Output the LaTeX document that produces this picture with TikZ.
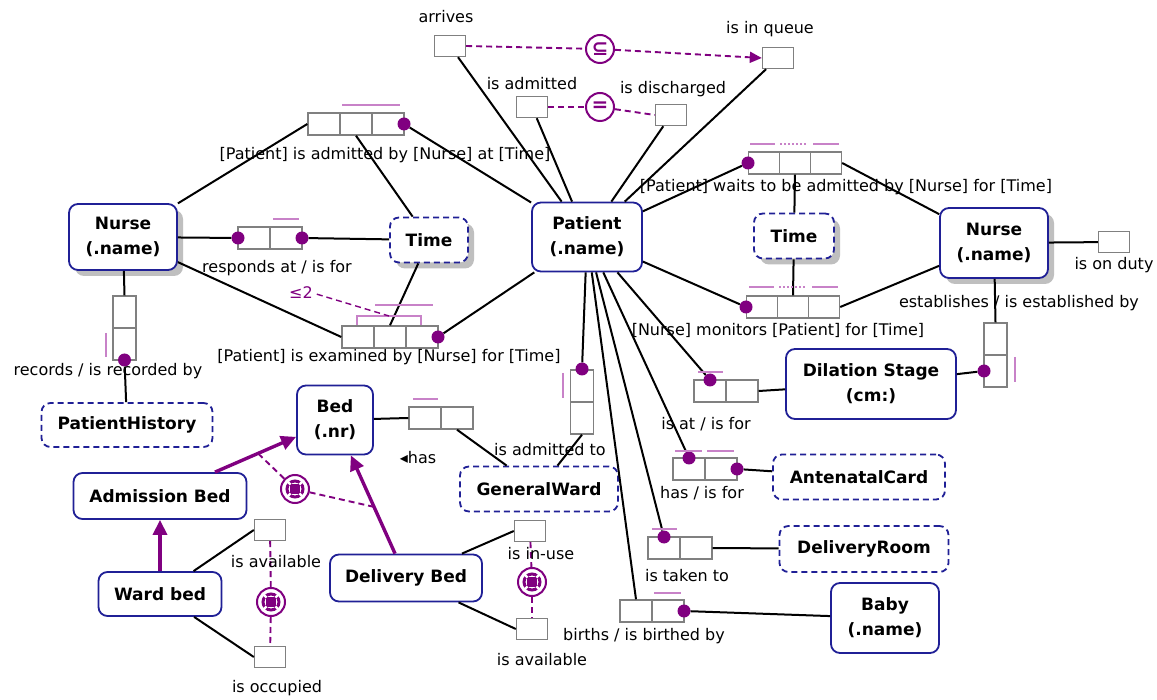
\documentclass[tikz,border=0pt]{standalone}
\usepackage{fontspec}
\setmainfont{DejaVu Sans}
\usetikzlibrary{arrows.meta,calc,shadows}
\definecolor{ormblue}{RGB}{32,32,150}
\definecolor{ormpurple}{RGB}{128,0,128}
\definecolor{ormbar}{RGB}{200,130,200}
\tikzset{
  entity/.style={draw=ormblue, line width=1.8pt, rounded corners=9pt, fill=white, align=center, inner sep=2pt, font=\bfseries\fontsize{17}{25}\selectfont},
  valuetype/.style={entity, dash pattern=on 6pt off 4pt},
  dup/.style={drop shadow={shadow xshift=6pt, shadow yshift=-6pt, fill=black!25, opacity=1}},
  role/.style={draw=black!50, fill=white, line width=1.4pt, minimum width=32pt, minimum height=22pt, inner sep=0pt},
  vrole/.style={role, minimum width=23pt, minimum height=32pt},
  unary/.style={role, minimum width=31pt, minimum height=21pt},
  dot/.style={circle, fill=ormpurple, inner sep=0pt, minimum size=13pt},
  link/.style={line width=2pt},
  ubar/.style={draw=ormbar, line width=2.6pt},
  lbl/.style={inner sep=0pt, font=\fontsize{16}{19}\selectfont},
  cdash/.style={draw=ormpurple, line width=1.9pt, dash pattern=on 6pt off 4pt},
  cons/.style={circle, draw=ormpurple, line width=2pt, fill=white, minimum size=28pt, inner sep=0pt, text=ormpurple, font=\bfseries\fontsize{20}{20}\selectfont},
  xorc/.style={cons, path picture={
      \coordinate (pc) at (path picture bounding box.center);
      \draw[ormpurple, line width=3pt] (pc) circle (8pt);
      \fill[ormpurple] ($(pc)+(-5pt,-5pt)$) rectangle ($(pc)+(5pt,5pt)$);
      \foreach \a in {45,135,225,315}
        \draw[white, line width=2.4pt] ($(pc)+(\a:6.2pt)$) -- ($(pc)+(\a:11pt)$);
    }},
  subarrow/.style={draw=ormpurple, line width=3.4pt, -{Triangle[length=15pt,width=14pt]}}
}
\begin{document}
\begin{tikzpicture}[x=1pt,y=-1pt]
\fill[white] (0,0) rectangle (1157,700);

\node[entity,dup,minimum width=108pt,minimum height=66pt] (nurseL) at (123,237) {Nurse\\(.name)};
\node[valuetype,dup,minimum width=78pt,minimum height=45pt] (timeL) at (429,240) {Time};
\node[entity,minimum width=110pt,minimum height=69pt] (patient) at (587,237) {Patient\\(.name)};
\node[valuetype,dup,minimum width=80pt,minimum height=45pt] (timeR) at (794,236) {Time};
\node[entity,dup,minimum width=108pt,minimum height=70pt] (nurseR) at (994,243) {Nurse\\(.name)};
\node[valuetype,minimum width=171pt,minimum height=44pt] (history) at (127,425) {PatientHistory};
\node[entity,minimum width=76pt,minimum height=69pt] (bed) at (335,420) {Bed\\(.nr)};
\node[valuetype,minimum width=158pt,minimum height=45pt] (ward) at (539,489) {GeneralWard};
\node[entity,minimum width=170pt,minimum height=70pt] (dilation) at (871,384) {Dilation Stage\\(cm:)};
\node[valuetype,minimum width=172pt,minimum height=45pt] (card) at (859,477) {AntenatalCard};
\node[valuetype,minimum width=169pt,minimum height=46pt] (room) at (864,549) {DeliveryRoom};
\node[entity,minimum width=108pt,minimum height=70pt] (baby) at (885,618) {Baby\\(.name)};
\node[entity,minimum width=173pt,minimum height=46pt] (admbed) at (160,496) {Admission Bed};
\node[entity,minimum width=123pt,minimum height=44pt] (wardbed) at (160,594) {Ward bed};
\node[entity,minimum width=152pt,minimum height=47pt] (delbed) at (406,578) {Delivery Bed};

\node[unary] (arrives) at (450,46) {};
\node[unary] (inqueue) at (778,58) {};
\node[unary] (admitted) at (532,107) {};
\node[unary] (discharged) at (671,115) {};
\node[unary] (duty) at (1114,242) {};
\node[unary] (avail1) at (270,530) {};
\node[unary] (occ) at (270,657) {};
\node[unary] (inuse) at (530,531) {};
\node[unary] (avail2) at (532,629) {};

\node[role] (adm1) at (324,124) {};
\node[role] (adm2) at (356,124) {};
\node[role] (adm3) at (388,124) {};
\node[role] (res1) at (254,238) {};
\node[role] (res2) at (286,238) {};
\node[role] (exa1) at (358,337) {};
\node[role] (exa2) at (390,337) {};
\node[role] (exa3) at (422,337) {};
\node[vrole] (rec1) at (124.5,312) {};
\node[vrole] (rec2) at (124.5,344) {};
\node[role] (has1) at (425,418) {};
\node[role] (has2) at (457,418) {};
\node[vrole] (admto1) at (582,386) {};
\node[vrole] (admto2) at (582,418) {};
\node[role] (isat1) at (710,391) {};
\node[role] (isat2) at (742,391) {};
\node[role] (cardf1) at (689,469) {};
\node[role] (cardf2) at (721,469) {};
\node[role] (taken1) at (664,548) {};
\node[role] (taken2) at (696,548) {};
\node[role] (birth1) at (636,611) {};
\node[role] (birth2) at (668,611) {};
\node[role,minimum width=31pt] (wait1) at (764,163) {};
\node[role,minimum width=31pt] (wait2) at (795,163) {};
\node[role,minimum width=31pt] (wait3) at (826,163) {};
\node[role,minimum width=31pt] (mon1) at (762,307) {};
\node[role,minimum width=31pt] (mon2) at (793,307) {};
\node[role,minimum width=31pt] (mon3) at (824,307) {};
\node[vrole] (est1) at (995.5,339) {};
\node[vrole] (est2) at (995.5,371) {};

\node[dot] (admd) at (404,124) {};
\node[dot] (resdl) at (238,238) {};
\node[dot] (resdr) at (302,238) {};
\node[dot] (exad) at (438,337) {};
\node[dot] (recd) at (124.5,360) {};
\node[dot] (admtod) at (582,369) {};
\node[dot] (isatd) at (710,380) {};
\node[dot] (cardd1) at (689,458) {};
\node[dot] (cardd2) at (737,469) {};
\node[dot] (takend) at (664,537) {};
\node[dot] (birthd) at (684,611) {};
\node[dot] (waitd) at (748,163) {};
\node[dot] (mond) at (746,307) {};
\node[dot] (estd) at (984,371) {};

\draw[link] (arrives) -- (patient);
\draw[link] (admitted) -- (patient);
\draw[link] (discharged) -- (patient);
\draw[link] (inqueue) -- (patient);
\draw[link] (nurseL) -- (adm1.west);
\draw[link] (adm2.south) -- (timeL);
\draw[link] (admd) -- (patient);
\draw[link] (nurseL) -- (resdl);
\draw[link] (resdr) -- (timeL);
\draw[link] (nurseL) -- (exa1.west);
\draw[link] (exa2.north) -- (timeL);
\draw[link] (exad) -- (patient);
\draw[link] (nurseL) -- (rec1.north);
\draw[link] (recd) -- (history);
\draw[link] (bed) -- (has1.west);
\draw[link] (has2.south) -- (ward);
\draw[link] (patient) -- (admtod);
\draw[link] (admto2.south) -- (ward);
\draw[link] (patient) -- (isatd);
\draw[link] (isat2.east) -- (dilation);
\draw[link] (patient) -- (cardd1);
\draw[link] (cardd2) -- (card);
\draw[link] (patient) -- (takend);
\draw[link] (taken2.east) -- (room);
\draw[link] (patient) -- (birth1.north);
\draw[link] (birthd) -- (baby);
\draw[link] (patient) -- (waitd);
\draw[link] (wait2.south) -- (timeR);
\draw[link] (wait3.east) -- (nurseR);
\draw[link] (patient) -- (mond);
\draw[link] (timeR) -- (mon2.north);
\draw[link] (mon3.east) -- (nurseR);
\draw[link] (nurseR) -- (duty);
\draw[link] (nurseR) -- (est1.north);
\draw[link] (estd) -- (dilation);
\draw[link] (wardbed) -- (avail1.west);
\draw[link] (wardbed) -- (occ.west);
\draw[link] (delbed) -- (inuse.west);
\draw[link] (delbed) -- (avail2.west);

\draw[ubar] (342,105) -- (400,105);
\draw[ubar] (273,219) -- (299,219);
\draw[ubar] (375,305) -- (433,305);
\draw[ubar, line width=2pt] (357,325) -- (357,316) -- (421,316) -- (421,325);
\draw[ubar] (106,333) -- (106,357);
\draw[ubar] (413,399) -- (438,399);
\draw[ubar] (563,373) -- (563,398);
\draw[ubar] (698,372) -- (723,372);
\draw[ubar] (675,451) -- (702,451);
\draw[ubar] (707,451) -- (734,451);
\draw[ubar] (652,529) -- (677,529);
\draw[ubar] (654,593) -- (681,593);
\draw[ubar] (750,144) -- (775,144);
\draw[ubar, dash pattern=on 2pt off 2pt] (780,144) -- (807,144);
\draw[ubar] (813,144) -- (839,144);
\draw[ubar] (749,287) -- (774,287);
\draw[ubar, dash pattern=on 2pt off 2pt] (779,287) -- (806,287);
\draw[ubar] (812,287) -- (838,287);
\draw[ubar] (1015,357) -- (1015,382);

\node[cons] (subset) at (600,49) {⊆};
\node[cons] (equal) at (600,107) {=};
\draw[cdash] (arrives.east) -- (subset);
\draw[cdash, -{Triangle[length=12pt,width=11pt]}] (subset) -- (inqueue.west);
\draw[cdash] (admitted.east) -- (equal);
\draw[cdash] (equal) -- (discharged.west);

\node[lbl, text=ormpurple] (le2) at (301,293) {≤2};
\coordinate (frq) at (389,316);
\draw[cdash, line width=1.4pt, shorten <=4pt] (le2.east) -- (frq);

\node[xorc] (x1) at (295,489) {};
\node[xorc] (x2) at (271,602) {};
\node[xorc] (x3) at (532,582) {};
\draw[cdash] (x1) -- ($(admbed)!0.56!(bed)$);
\draw[cdash] (x1) -- ($(delbed)!0.45!(bed)$);
\draw[cdash] (avail1) -- (x2);
\draw[cdash] (x2) -- (occ);
\draw[cdash] (inuse) -- (x3);
\draw[cdash] (x3) -- (avail2);

\draw[subarrow] (wardbed) -- (admbed);
\draw[subarrow] (admbed) -- (bed);
\draw[subarrow] (delbed) -- (bed);

\node[lbl] at (446,17) {arrives};
\node[lbl] at (770,29) {is in queue};
\node[lbl] at (532,84) {is admitted};
\node[lbl] at (673,89) {is discharged};
\node[lbl] at (385,155) {[Patient] is admitted by [Nurse] at [Time]};
\node[lbl] at (277,268) {responds at / is for};
\node[lbl] at (389,357) {[Patient] is examined by [Nurse] for [Time]};
\node[lbl] at (108,371) {records / is recorded by};
\node[lbl] at (418,458) {◂has};
\node[lbl] at (550,450) {is admitted to};
\node[lbl] at (706,424) {is at / is for};
\node[lbl] at (702,493) {has / is for};
\node[lbl] at (687,576) {is taken to};
\node[lbl] at (644,636) {births / is birthed by};
\node[lbl] at (846,187) {[Patient] waits to be admitted by [Nurse] for [Time]};
\node[lbl] at (778,330) {[Nurse] monitors [Patient] for [Time]};
\node[lbl] at (1114,265) {is on duty};
\node[lbl] at (1019,303) {establishes / is established by};
\node[lbl] at (276,562) {is available};
\node[lbl] at (277,688) {is occupied};
\node[lbl] at (541,554) {is in-use};
\node[lbl] at (542,660) {is available};
\end{tikzpicture}
\end{document}
